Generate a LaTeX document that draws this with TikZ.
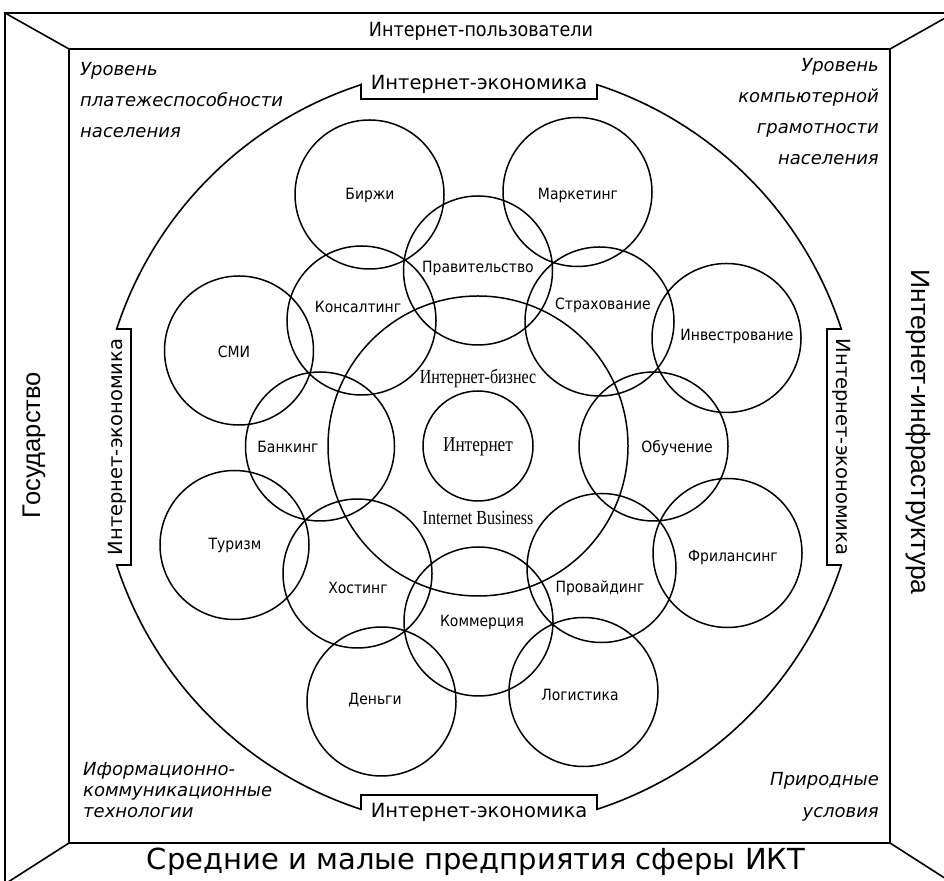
\documentclass[tikz,border=0pt]{standalone}
\usepackage{fontspec}
\setmainfont{DejaVu Sans}
\newfontfamily\condfont{DejaVu Sans Condensed}
\newfontfamily\timesfont{Liberation Serif}
\newfontfamily\arialfont{Liberation Sans}
\usepackage{tikz}

\begin{document}
\begin{tikzpicture}[x=1pt, y=1pt,
    frm/.style={line width=1.6pt},
    bub/.style={circle, draw, line width=1.5pt, minimum size=149pt, inner sep=0pt},
    lbl/.style={font=\condfont\fontsize{15.5}{18}\selectfont, inner sep=0pt},
    econ/.style={font=\fontsize{19.5}{22}\selectfont, inner sep=0pt},
    side/.style={font=\arialfont\fontsize{25.5}{28}\selectfont, inner sep=0pt},
    note/.style={font=\itshape\fontsize{18}{31}\selectfont, inner sep=0pt},
    rm/.style={font=\timesfont\fontsize{20}{22}\selectfont, inner sep=0pt}]
    \useasboundingbox (0,0) rectangle (944,880);
    \clip (0,0) rectangle (944,880);

        % frame
        \coordinate (otl) at (5,867);
        \coordinate (otr) at (954,867);
        \coordinate (obl) at (5,-4);
        \coordinate (obr) at (954,-4);
        \coordinate (itl) at (69,831);
        \coordinate (itr) at (890,831);
        \coordinate (ibl) at (69,37);
        \coordinate (ibr) at (890,37);
        \draw[frm] (obl) rectangle (otr);
        \draw[frm] (ibl) rectangle (itr);
        \draw[frm] (otl) -- (itl) (otr) -- (itr) (obl) -- (ibl) (obr) -- (ibr);

        \node[font=\condfont\fontsize{19.5}{22}\selectfont, inner sep=0pt] (users) at (481,849) {Интернет-пользователи};
        \node[font=\fontsize{29}{32}\selectfont, inner sep=0pt] (smb) at (476,18) {Средние и малые предприятия сферы ИКТ};
        \node[side, rotate=90] (gov) at (34,435) {Государство};
        \node[side, rotate=-90, font=\arialfont\fontsize{26.5}{28}\selectfont] (infra) at (918,448) {Интернет-инфраструктура};

        \node[note, anchor=north west, align=left] (solv) at (80,818) {Уровень\\платежеспособности\\населения};
        \node[note, anchor=north east, align=right] (lit) at (879,822) {Уровень\\компьютерной\\грамотности\\населения};
        \node[note, anchor=north west, align=left, font=\itshape\fontsize{18}{21}\selectfont] (ict) at (83,118) {Иформационно-\\коммуникационные\\технологии};
        \node[note, anchor=north east, align=right, font=\itshape\fontsize{18}{32}\selectfont] (nat) at (879,108) {Природные\\условия};

        % Internet economy ring
        \draw[frm] (361,795.3) -- (361,781) -- (597,781) -- (597,795.3)
            arc[start angle=71.96, end angle=18.04, radius=381] -- (827,551) -- (827,315) -- (841.3,315)
            arc[start angle=-18.04, end angle=-71.96, radius=381] -- (597,85) -- (361,85) -- (361,70.7)
            arc[start angle=-108.04, end angle=-161.96, radius=381] -- (131,315) -- (131,551) -- (116.7,551)
            arc[start angle=161.96, end angle=108.04, radius=381] -- cycle;
        \node[econ] (econt) at (479,796) {Интернет-экономика};
        \node[econ] (econb) at (479,68) {Интернет-экономика};
        \node[econ, rotate=90] (econl) at (117,433) {Интернет-экономика};
        \node[econ, rotate=-90] (econr) at (842,433) {Интернет-экономика};

        % core
        \node[bub, minimum size=300pt] (ibiz) at (478,434) {};
        \node[bub, minimum size=110pt] (inet) at (478,434) {};
        \node[rm, font=\timesfont\fontsize{21}{22}\selectfont] (inett) at (478,433) {\scalebox{0.82}[1]{Интернет}};
        \node[rm] (ibizru) at (478,502) {\scalebox{0.8}[1]{Интернет-бизнес}};
        \node[rm] (ibizen) at (478,362) {\scalebox{0.8}[1]{Internet Business}};

        % sectors
        \node[bub] (birzhi) at (369.5,685.5) {};
        \node[lbl] at (370,685) {Биржи};
        \node[bub] (market) at (577.5,688) {};
        \node[lbl] at (578,685) {Маркетинг};
        \node[bub] (prav) at (478,609.5) {};
        \node[lbl] at (478,612) {Правительство};
        \node[bub] (konsalt) at (361.5,559.5) {};
        \node[lbl] at (358,573) {Консалтинг};
        \node[bub] (strah) at (599.5,558.5) {};
        \node[lbl] at (603,575) {Страхование};
        \node[bub] (smi) at (239,529.5) {};
        \node[lbl] at (234,528) {СМИ};
        \node[bub] (invest) at (726.5,542) {};
        \node[lbl] at (737,544) {Инвестрование};
        \node[bub] (bank) at (320,433.5) {};
        \node[lbl] at (288,433) {Банкинг};
        \node[bub] (obuch) at (653.5,433.5) {};
        \node[lbl] at (677,432) {Обучение};
        \node[bub] (turizm) at (234.5,335) {};
        \node[lbl] at (235,335) {Туризм};
        \node[bub] (freel) at (727.5,327) {};
        \node[lbl] at (733,323) {Фрилансинг};
        \node[bub] (host) at (357.5,306.5) {};
        \node[lbl] at (358,292) {Хостинг};
        \node[bub] (prov) at (601.5,312) {};
        \node[lbl] at (600,292) {Провайдинг};
        \node[bub] (komm) at (478.5,258.5) {};
        \node[lbl] at (482,258) {Коммерция};
        \node[bub] (dengi) at (381.5,178.5) {};
        \node[lbl] at (375,180) {Деньги};
        \node[bub] (logist) at (583.5,188) {};
        \node[lbl] at (580,185) {Логистика};
    \end{tikzpicture}
\end{document}
